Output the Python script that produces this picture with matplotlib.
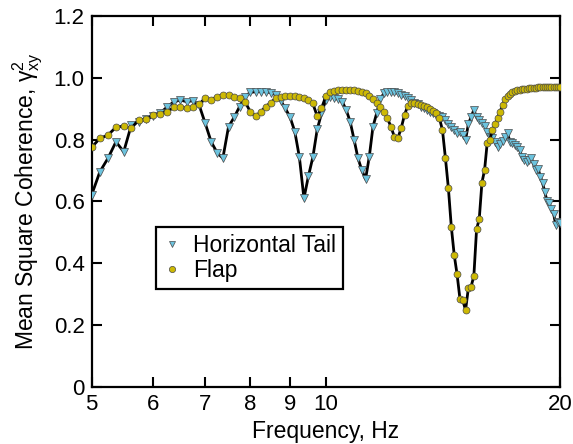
import numpy as np
import matplotlib
matplotlib.use("Agg")
import matplotlib.pyplot as plt

plt.rcParams['font.family'] = ['Liberation Sans', 'DejaVu Sans']
plt.rcParams['mathtext.fontset'] = 'custom'
plt.rcParams['mathtext.rm'] = 'Liberation Sans'
plt.rcParams['mathtext.it'] = 'Liberation Sans:italic'

# Frequency grid (Hz), 0.125 Hz resolution
freq = np.arange(5.0, 20.0 + 0.0625, 0.125)

horizontal_tail = [
    0.620, 0.696, 0.740, 0.793, 0.761, 0.847, 0.858, 0.866, 0.876, 0.886,
    0.905, 0.922, 0.928, 0.923, 0.926, 0.912, 0.853, 0.793, 0.758, 0.740,
    0.842, 0.872, 0.907, 0.939, 0.953, 0.955, 0.955, 0.955, 0.952, 0.945,
    0.926, 0.901, 0.872, 0.826, 0.743, 0.610, 0.682, 0.743, 0.833, 0.885,
    0.928, 0.939, 0.935, 0.930, 0.923, 0.896, 0.858, 0.800, 0.740, 0.702,
    0.672, 0.745, 0.842, 0.885, 0.930, 0.950, 0.955, 0.955, 0.953, 0.950,
    0.946, 0.940, 0.935, 0.927, 0.920, 0.914, 0.907, 0.902, 0.896, 0.890,
    0.885, 0.880, 0.875, 0.872, 0.864, 0.850, 0.840, 0.832, 0.822, 0.826,
    0.815, 0.800, 0.850, 0.874, 0.896, 0.872, 0.865, 0.855, 0.845, 0.825,
    0.810, 0.804, 0.793, 0.777, 0.785, 0.795, 0.810, 0.820, 0.793, 0.788,
    0.783, 0.775, 0.766, 0.745, 0.734, 0.729, 0.735, 0.740, 0.720, 0.702,
    0.705, 0.680, 0.659, 0.630, 0.600, 0.594, 0.575, 0.561, 0.524, 0.535,
    0.530,
]

flap = [
    0.775, 0.804, 0.815, 0.840, 0.844, 0.837, 0.864, 0.866, 0.880, 0.883,
    0.890, 0.904, 0.907, 0.901, 0.907, 0.914, 0.935, 0.929, 0.939, 0.944,
    0.944, 0.939, 0.934, 0.923, 0.890, 0.876, 0.890, 0.907, 0.920, 0.934,
    0.939, 0.942, 0.942, 0.942, 0.939, 0.934, 0.928, 0.917, 0.876, 0.901,
    0.940, 0.955, 0.958, 0.960, 0.962, 0.962, 0.962, 0.960, 0.958, 0.955,
    0.950, 0.940, 0.930, 0.917, 0.905, 0.890, 0.870, 0.842, 0.810, 0.804,
    0.837, 0.880, 0.910, 0.917, 0.917, 0.915, 0.912, 0.908, 0.904, 0.898,
    0.893, 0.885, 0.869, 0.831, 0.740, 0.643, 0.518, 0.427, 0.364, 0.285,
    0.280, 0.249, 0.320, 0.325, 0.359, 0.510, 0.544, 0.661, 0.702, 0.790,
    0.800, 0.830, 0.850, 0.870, 0.890, 0.912, 0.930, 0.940, 0.948, 0.953,
    0.956, 0.959, 0.961, 0.963, 0.964, 0.965, 0.966, 0.967, 0.968, 0.968,
    0.969, 0.969, 0.970, 0.970, 0.970, 0.970, 0.970, 0.970, 0.970, 0.970,
    0.970,
]

x_ticks = [5, 6, 7, 8, 9, 10, 20]
x_tick_labels = ['5', '6', '7', '8', '9', '10', '20']
y_ticks = [0, 0.2, 0.4, 0.6, 0.8, 1.0, 1.2]
y_tick_labels = ['0', '0.2', '0.4', '0.6', '0.8', '1.0', '1.2']

fig = plt.figure(figsize=(5.73, 4.44), dpi=100)
ax = fig.add_axes([0.1597, 0.1284, 0.8176, 0.8356])

ht_color = '#6cc3de'
flap_color = '#cdb904'
edge = '#4a4a4a'

ax.plot(freq, horizontal_tail, color='black', lw=2.0, zorder=2)
ax.plot(freq, horizontal_tail, ls='none', marker='v', ms=5.2, mfc=ht_color,
        mec=edge, mew=0.5, zorder=3, label='Horizontal Tail')
ax.plot(freq, flap, color='black', lw=2.0, zorder=4)
ax.plot(freq, flap, ls='none', marker='o', ms=5.0, mfc=flap_color,
        mec=edge, mew=0.5, zorder=5, label='Flap')

ax.set_xscale('log')
ax.set_xlim(5, 20)
ax.set_ylim(0, 1.2)
ax.set_xticks(x_ticks)
ax.set_xticklabels(x_tick_labels)
ax.xaxis.set_minor_locator(matplotlib.ticker.NullLocator())
ax.set_yticks(y_ticks)
ax.set_yticklabels(y_tick_labels)

ax.tick_params(axis='both', which='major', direction='in', length=7, width=1.5,
               top=True, right=True, labelsize=16, pad=5)
for s in ax.spines.values():
    s.set_linewidth(1.6)

ax.set_xlabel('Frequency, Hz', fontsize=16.5, labelpad=4)
ax.set_ylabel(r'Mean Square Coherence, $\mathrm{\gamma}^{\mathrm{2}}_{\mathrm{xy}}$',
              fontsize=16.5, labelpad=6)

leg = ax.legend(loc='upper left', bbox_to_anchor=(0.1377, 0.432), borderaxespad=0,
                fontsize=16.5, frameon=True, fancybox=False, markerscale=0.9,
                handlelength=0.8, handletextpad=0.5, borderpad=0.3, labelspacing=0.1)
leg.get_frame().set_edgecolor('black')
leg.get_frame().set_linewidth(1.6)
leg.get_frame().set_alpha(1)

fig.savefig('out.png', dpi=100)
